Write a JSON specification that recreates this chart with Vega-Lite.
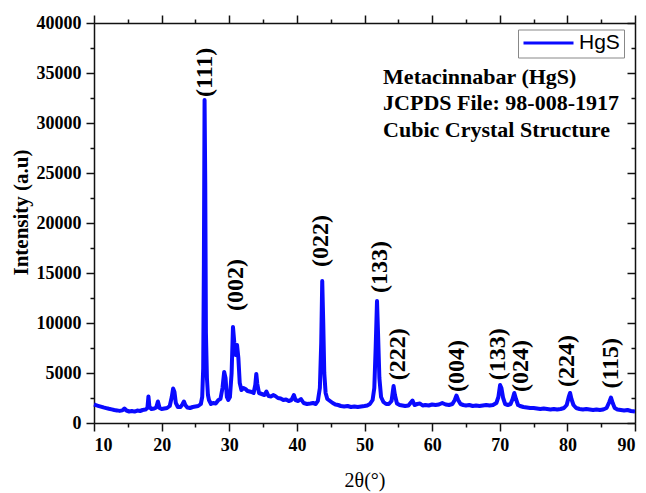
{
  "$schema": "https://vega.github.io/schema/vega-lite/v6.json",
  "width": 541,
  "height": 400,
  "autosize": {"type": "none"},
  "padding": {"left": 94, "top": 23, "right": 11, "bottom": 70},
  "background": "white",
  "config": {
    "view": {"stroke": null},
    "axis": {
      "domainColor": "#111",
      "domainWidth": 1.5,
      "tickColor": "#111",
      "tickWidth": 1.5,
      "labelFont": "Liberation Serif",
      "labelFontWeight": "bold",
      "labelFontSize": 18,
      "labelColor": "#000",
      "titleColor": "#000",
      "grid": false
    }
  },
  "layer": [
    {
      "data": {"values": [
        {"t":10.0,"i":1850},{"t":10.3,"i":1780},{"t":10.6,"i":1720},{"t":11.0,"i":1640},{"t":11.4,"i":1560},{"t":11.8,"i":1490},{"t":12.2,"i":1420},{"t":12.6,"i":1360},{"t":13.0,"i":1300},{"t":13.4,"i":1260},{"t":13.8,"i":1210},{"t":14.2,"i":1260},{"t":14.5,"i":1450},{"t":14.8,"i":1250},{"t":15.2,"i":1150},{"t":15.6,"i":1200},{"t":16.0,"i":1140},{"t":16.4,"i":1240},{"t":16.8,"i":1200},{"t":17.2,"i":1300},{"t":17.6,"i":1340},{"t":17.9,"i":1500},{"t":18.05,"i":2650},{"t":18.2,"i":1600},{"t":18.5,"i":1400},{"t":18.9,"i":1450},{"t":19.2,"i":1550},{"t":19.45,"i":2150},{"t":19.7,"i":1500},{"t":20.0,"i":1400},{"t":20.4,"i":1450},{"t":20.8,"i":1500},{"t":21.2,"i":1700},{"t":21.5,"i":2600},{"t":21.7,"i":3450},{"t":21.9,"i":3100},{"t":22.1,"i":2000},{"t":22.4,"i":1600},{"t":22.8,"i":1600},{"t":23.1,"i":1900},{"t":23.3,"i":2150},{"t":23.5,"i":1800},{"t":23.8,"i":1550},{"t":24.2,"i":1500},{"t":24.6,"i":1600},{"t":25.0,"i":1650},{"t":25.4,"i":1700},{"t":25.8,"i":1900},{"t":26.0,"i":2600},{"t":26.15,"i":5500},{"t":26.25,"i":16000},{"t":26.35,"i":32300},{"t":26.45,"i":24000},{"t":26.55,"i":9000},{"t":26.7,"i":4500},{"t":26.85,"i":2800},{"t":27.0,"i":2300},{"t":27.3,"i":1900},{"t":27.6,"i":2000},{"t":28.0,"i":1950},{"t":28.4,"i":2300},{"t":28.7,"i":2400},{"t":29.0,"i":3500},{"t":29.25,"i":5100},{"t":29.45,"i":4500},{"t":29.65,"i":2600},{"t":29.85,"i":2300},{"t":30.1,"i":2600},{"t":30.35,"i":5000},{"t":30.55,"i":9600},{"t":30.75,"i":8000},{"t":30.95,"i":6800},{"t":31.15,"i":7800},{"t":31.35,"i":6500},{"t":31.55,"i":4000},{"t":31.8,"i":3300},{"t":32.1,"i":3500},{"t":32.4,"i":3400},{"t":32.7,"i":3200},{"t":33.0,"i":3150},{"t":33.3,"i":3100},{"t":33.6,"i":3000},{"t":33.85,"i":3800},{"t":34.0,"i":4900},{"t":34.15,"i":3900},{"t":34.4,"i":3000},{"t":34.8,"i":2900},{"t":35.2,"i":2800},{"t":35.5,"i":3150},{"t":35.8,"i":2700},{"t":36.2,"i":2650},{"t":36.5,"i":2800},{"t":36.8,"i":2700},{"t":37.2,"i":2500},{"t":37.6,"i":2450},{"t":38.0,"i":2300},{"t":38.4,"i":2350},{"t":38.8,"i":2200},{"t":39.2,"i":2300},{"t":39.55,"i":2800},{"t":39.8,"i":2300},{"t":40.2,"i":2200},{"t":40.6,"i":2400},{"t":41.0,"i":2000},{"t":41.5,"i":1900},{"t":42.0,"i":1950},{"t":42.4,"i":2000},{"t":42.8,"i":1900},{"t":43.1,"i":2200},{"t":43.4,"i":3500},{"t":43.6,"i":8000},{"t":43.75,"i":14200},{"t":43.9,"i":10000},{"t":44.05,"i":5000},{"t":44.25,"i":3000},{"t":44.5,"i":2400},{"t":44.9,"i":2200},{"t":45.3,"i":2000},{"t":45.7,"i":1850},{"t":46.1,"i":1800},{"t":46.5,"i":1700},{"t":47.0,"i":1650},{"t":47.5,"i":1700},{"t":48.0,"i":1600},{"t":48.5,"i":1650},{"t":49.0,"i":1600},{"t":49.5,"i":1650},{"t":50.0,"i":1700},{"t":50.4,"i":1750},{"t":50.8,"i":1900},{"t":51.2,"i":2300},{"t":51.45,"i":3500},{"t":51.65,"i":7500},{"t":51.85,"i":12200},{"t":52.0,"i":9000},{"t":52.2,"i":4500},{"t":52.45,"i":2600},{"t":52.8,"i":2100},{"t":53.2,"i":1900},{"t":53.6,"i":1900},{"t":54.0,"i":2200},{"t":54.3,"i":3700},{"t":54.5,"i":2800},{"t":54.8,"i":1950},{"t":55.2,"i":1800},{"t":55.6,"i":1750},{"t":56.0,"i":1700},{"t":56.5,"i":1750},{"t":57.1,"i":2250},{"t":57.4,"i":1800},{"t":57.8,"i":1900},{"t":58.2,"i":1950},{"t":58.6,"i":1750},{"t":59.0,"i":1800},{"t":59.5,"i":1750},{"t":60.0,"i":1850},{"t":60.5,"i":1800},{"t":61.0,"i":1850},{"t":61.5,"i":2000},{"t":62.0,"i":1850},{"t":62.5,"i":1800},{"t":63.0,"i":1900},{"t":63.35,"i":2300},{"t":63.6,"i":2750},{"t":63.85,"i":2300},{"t":64.2,"i":1900},{"t":64.6,"i":1800},{"t":65.0,"i":1750},{"t":65.5,"i":1800},{"t":66.0,"i":1700},{"t":66.5,"i":1750},{"t":67.0,"i":1700},{"t":67.5,"i":1750},{"t":68.0,"i":1800},{"t":68.5,"i":1750},{"t":69.0,"i":1800},{"t":69.5,"i":2000},{"t":69.8,"i":2600},{"t":70.05,"i":3800},{"t":70.25,"i":3500},{"t":70.5,"i":2500},{"t":70.8,"i":1900},{"t":71.2,"i":1800},{"t":71.6,"i":1900},{"t":71.9,"i":2400},{"t":72.15,"i":3000},{"t":72.4,"i":2400},{"t":72.7,"i":1800},{"t":73.0,"i":1700},{"t":73.5,"i":1600},{"t":74.0,"i":1550},{"t":74.5,"i":1500},{"t":75.0,"i":1500},{"t":75.5,"i":1450},{"t":76.0,"i":1400},{"t":76.5,"i":1450},{"t":77.0,"i":1400},{"t":77.5,"i":1350},{"t":78.0,"i":1400},{"t":78.5,"i":1350},{"t":79.0,"i":1400},{"t":79.5,"i":1500},{"t":79.9,"i":1800},{"t":80.2,"i":2600},{"t":80.4,"i":3000},{"t":80.6,"i":2400},{"t":80.9,"i":1800},{"t":81.3,"i":1500},{"t":81.8,"i":1400},{"t":82.3,"i":1350},{"t":82.8,"i":1400},{"t":83.3,"i":1350},{"t":83.8,"i":1300},{"t":84.3,"i":1350},{"t":84.8,"i":1300},{"t":85.3,"i":1350},{"t":85.8,"i":1500},{"t":86.2,"i":2100},{"t":86.45,"i":2550},{"t":86.7,"i":2000},{"t":87.0,"i":1500},{"t":87.4,"i":1350},{"t":87.9,"i":1300},{"t":88.4,"i":1250},{"t":88.9,"i":1300},{"t":89.4,"i":1200},{"t":90.0,"i":1150}
      ]},
      "mark": {"type": "line", "strokeWidth": 4, "strokeJoin": "round"},
      "encoding": {
        "x": {"field": "t", "type": "quantitative", "scale": {"domain": [10, 90], "nice": false, "zero": false},
          "axis": {"orient": "bottom", "values": [10,20,30,40,50,60,70,80,90], "format": "d", "tickSize": 8, "labelPadding": 5, "title": "2θ(°)", "titleFont": "Liberation Serif", "titleFontWeight": "normal", "titleFontSize": 20, "titleY": 63, "titleBaseline": "alphabetic"}},
        "y": {"field": "i", "type": "quantitative", "scale": {"domain": [0, 40000], "nice": false},
          "axis": {"orient": "left", "values": [0,5000,10000,15000,20000,25000,30000,35000,40000], "format": "d", "tickSize": 8, "labelPadding": 5, "title": "Intensity (a.u)", "titleFont": "Liberation Serif", "titleFontWeight": "bold", "titleFontSize": 21, "titleAngle": 270, "titleX": -73, "titleY": 189, "titleAlign": "center", "titleBaseline": "middle"}},
        "color": {"datum": "HgS", "scale": {"range": ["#0a0aff"]},
          "legend": {"orient": "none", "legendX": 424, "legendY": 6.5, "title": null, "symbolType": "stroke", "symbolSize": 2500, "symbolStrokeWidth": 3, "clipHeight": 19, "labelFont": "Liberation Sans", "labelFontSize": 21, "labelColor": "#000", "labelOffset": 4, "strokeColor": "#888", "padding": 4, "fillColor": "white"}}
      }
    },
    {
      "data": {"values": [
        {"t": 26.4, "i": 32600, "label": "(111)"},
        {"t": 31.05, "i": 11200, "label": "(002)"},
        {"t": 43.6, "i": 15600, "label": "(022)"},
        {"t": 52.25, "i": 13000, "label": "(133)"},
        {"t": 54.9, "i": 4270, "label": "(222)"},
        {"t": 63.7, "i": 3100, "label": "(004)"},
        {"t": 69.75, "i": 4270, "label": "(133)"},
        {"t": 73.2, "i": 3100, "label": "(024)"},
        {"t": 80.0, "i": 3600, "label": "(224)"},
        {"t": 86.5, "i": 3440, "label": "(115)"}
      ]},
      "mark": {"type": "text", "angle": 270, "align": "left", "baseline": "middle", "font": "Liberation Serif", "fontWeight": "bold", "fontSize": 24, "color": "#000"},
      "encoding": {
        "x": {"field": "t", "type": "quantitative", "axis": {"orient": "top", "values": [10,20,30,40,50,60,70,80,90], "tickSize": 8, "labels": false, "title": null}},
        "y": {"field": "i", "type": "quantitative", "axis": {"orient": "right", "values": [0,5000,10000,15000,20000,25000,30000,35000,40000], "tickSize": -8, "labels": false, "title": null}},
        "text": {"field": "label"}
      }
    },
    {
      "data": {"values": [{"t": 50, "i": 20000}]},
      "mark": {"type": "point", "opacity": 0},
      "encoding": {
        "x": {"field": "t", "type": "quantitative", "axis": {"orient": "bottom", "values": [15,25,35,45,55,65,75,85], "tickSize": 4, "labels": false, "domain": false, "title": null}},
        "y": {"field": "i", "type": "quantitative", "axis": {"orient": "left", "values": [2500,7500,12500,17500,22500,27500,32500,37500], "tickSize": 4, "labels": false, "domain": false, "title": null}}
      }
    },
    {
      "data": {"values": [{"t": 50, "i": 20000}]},
      "mark": {"type": "point", "opacity": 0},
      "encoding": {
        "x": {"field": "t", "type": "quantitative", "axis": {"orient": "top", "values": [15,25,35,45,55,65,75,85], "tickSize": 4, "labels": false, "domain": false, "title": null}},
        "y": {"field": "i", "type": "quantitative", "axis": {"orient": "right", "values": [2500,7500,12500,17500,22500,27500,32500,37500], "tickSize": -4, "labels": false, "domain": false, "title": null}}
      }
    },
    {
      "data": {"values": [
        {"t": 52.75, "i": 33940, "text": "Metacinnabar (HgS)"},
        {"t": 52.75, "i": 31270, "text": "JCPDS File: 98-008-1917"},
        {"t": 52.75, "i": 28600, "text": "Cubic Crystal Structure"}
      ]},
      "mark": {"type": "text", "align": "left", "baseline": "alphabetic", "font": "Liberation Serif", "fontWeight": "bold", "fontSize": 22, "color": "#000"},
      "encoding": {
        "x": {"field": "t", "type": "quantitative", "axis": null},
        "y": {"field": "i", "type": "quantitative", "axis": null},
        "text": {"field": "text"}
      }
    }
  ]
}
